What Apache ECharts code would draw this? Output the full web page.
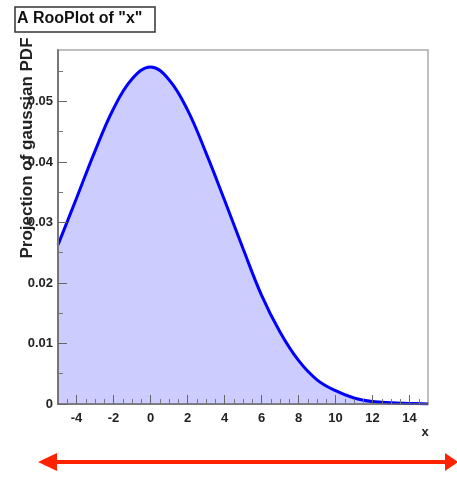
<!DOCTYPE html>
<html>
<head>
    <meta charset="utf-8">
    <title>A RooPlot of "x"</title>
    <script src="https://cdn.jsdelivr.net/npm/echarts@6/dist/echarts.min.js"></script>
    <style>
        html, body { margin: 0; padding: 0; background: #fff; }
        #chart1 { width: 457px; height: 477px; }
    </style>
</head>
<body>
<div id="chart1"></div>
<script type="text/javascript">
    // values
    var xValues = [-5, -4, -3, -2, -1, 0, 1, 2, 3, 4, 5, 6, 7, 8, 9, 10, 11, 12, 13, 14, 15];
    var pdfValues = [0.0263, 0.0340, 0.0418, 0.0488, 0.0537, 0.0557, 0.0536, 0.0486, 0.0415, 0.0337,
        0.0257, 0.0180, 0.0119, 0.0072, 0.0040, 0.0022, 0.0010, 0.0004, 0.0002, 0.0001, 0.0000];
    var xTicks = [-4, -2, 0, 2, 4, 6, 8, 10, 12, 14];
    var xMinorTicks = [-4.5, -3.5, -3, -2.5, -1.5, -1, -0.5, 0.5, 1, 1.5, 2.5, 3, 3.5, 4.5, 5, 5.5, 6.5, 7, 7.5,
        8.5, 9, 9.5, 10.5, 11, 11.5, 12.5, 13, 13.5, 14.5];
    var yTicks = [0, 0.01, 0.02, 0.03, 0.04, 0.05];
    var yMinorTicks = [0.005, 0.015, 0.025, 0.035, 0.045, 0.055];

    var font = 'Liberation Sans';
    var points = xValues.map(function (x, i) { return [x, pdfValues[i]]; });

    var myChart = echarts.init(document.getElementById('chart1'));
    var option = {
        animation: false,
        grid: {
            left: 58, right: 29, top: 50, bottom: 73,
            show: true, borderColor: '#aaa', borderWidth: 1.5, backgroundColor: '#fff'
        },
        xAxis: [{
            type: 'value', min: -5, max: 15, z: 5,
            axisLine: { onZero: false, lineStyle: { color: '#666', width: 1.5 } },
            axisTick: { inside: true, length: 9, customValues: xTicks, lineStyle: { color: '#666' } },
            axisLabel: {
                customValues: xTicks, margin: 8, color: '#222',
                fontFamily: font, fontWeight: 'bold', fontSize: 13
            },
            splitLine: { show: false }
        }, {
            type: 'value', min: -5, max: 15, position: 'bottom', z: 5,
            axisLine: { show: false, onZero: false },
            axisTick: { inside: true, length: 5, customValues: xMinorTicks, lineStyle: { color: '#777' } },
            axisLabel: { show: false },
            splitLine: { show: false }
        }],
        yAxis: [{
            type: 'value', min: 0, max: 0.0585, z: 5,
            axisLine: { show: true, onZero: false, lineStyle: { color: '#777', width: 2 } },
            axisTick: { show: true, inside: true, length: 9, customValues: yTicks, lineStyle: { color: '#666' } },
            axisLabel: {
                customValues: yTicks, margin: 5, color: '#222',
                fontFamily: font, fontWeight: 'bold', fontSize: 13
            },
            splitLine: { show: false }
        }, {
            type: 'value', min: 0, max: 0.0585, position: 'left', z: 5,
            axisLine: { show: false, onZero: false },
            axisTick: { show: true, inside: true, length: 5, customValues: yMinorTicks, lineStyle: { color: '#777' } },
            axisLabel: { show: false },
            splitLine: { show: false }
        }],
        series: [{
            type: 'line',
            data: points,
            smooth: 0.4,
            showSymbol: false,
            lineStyle: { color: '#0000ff', width: 3 },
            areaStyle: { color: '#ccccff', opacity: 1 },
            z: 1
        }],
        graphic: [
            // title box
            { type: 'rect', shape: { x: 15, y: 7, width: 140, height: 25 },
              style: { fill: '#fff', stroke: '#333', lineWidth: 1.5 }, z: 10 },
            { type: 'text', left: 17, top: 11,
              style: { text: 'A RooPlot of "x"', fill: '#111', font: 'bold 16px "Liberation Sans"' }, z: 11 },
            // y axis title
            { type: 'text', x: 19, y: 148, rotation: Math.PI / 2,
              style: { text: 'Projection of gaussian PDF', fill: '#222', font: 'bold 17px "Liberation Sans"',
                       align: 'center', verticalAlign: 'top' }, z: 12 },
            // x axis title
            { type: 'text', x: 425, y: 432,
              style: { text: 'x', fill: '#222', font: 'bold 13px "Liberation Sans"',
                       align: 'center', verticalAlign: 'middle' } },
            // red double arrow
            { type: 'line', shape: { x1: 54, y1: 462, x2: 449, y2: 462 },
              style: { stroke: '#ff2200', lineWidth: 4 } },
            { type: 'polygon', shape: { points: [[38, 462], [57, 453], [57, 471]] },
              style: { fill: '#ff2200' } },
            { type: 'polygon', shape: { points: [[458, 462], [445, 453], [445, 471]] },
              style: { fill: '#ff2200' } }
        ]
    };
    myChart.setOption(option);
</script>
</body>
</html>
